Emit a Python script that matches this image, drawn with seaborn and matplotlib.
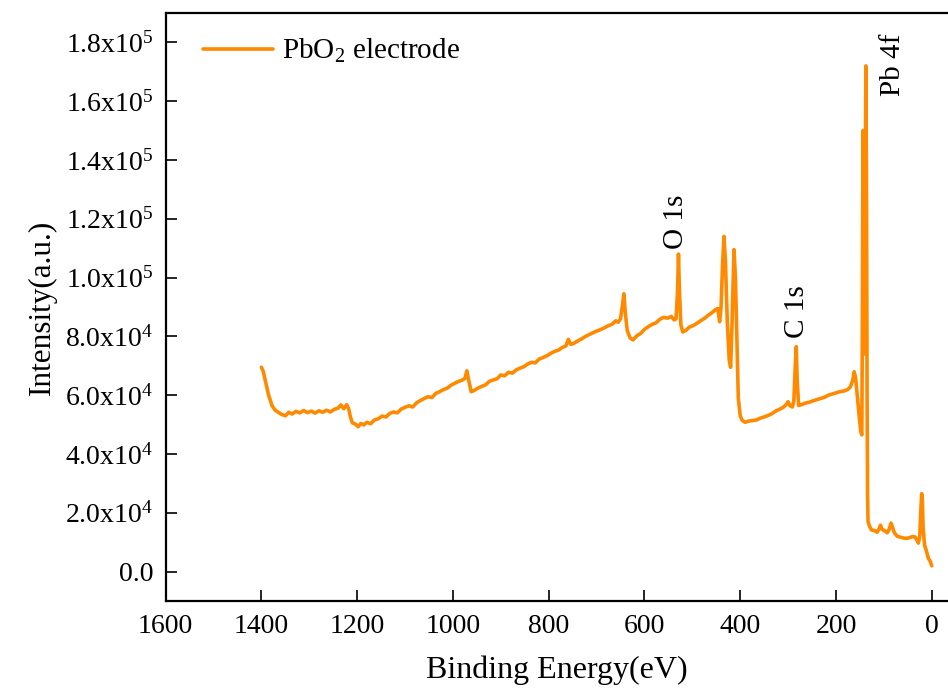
import matplotlib
matplotlib.use('Agg')
import matplotlib.pyplot as plt
import seaborn as sns
import pandas as pd

# binding energy (eV) and intensity
binding_energy = [
    1400, 1396, 1392, 1385, 1378, 1372, 1365, 1358, 1350, 1343, 1336, 1328,
    1320, 1312, 1304, 1296, 1288, 1280, 1272, 1264, 1256, 1248, 1240, 1234,
    1228, 1222, 1218, 1214, 1210, 1204, 1198, 1192, 1186, 1180, 1172, 1164,
    1156, 1148, 1140, 1132, 1124, 1116, 1108, 1100, 1092, 1084, 1076, 1068,
    1060, 1052, 1044, 1036, 1028, 1020, 1012, 1004, 996, 988, 980, 975,
    971, 967, 962, 956, 948, 940, 932, 924, 916, 908, 900, 892,
    884, 876, 868, 860, 852, 844, 836, 828, 820, 812, 804, 796,
    788, 780, 772, 764, 759, 754, 748, 740, 732, 724, 716, 708,
    700, 692, 684, 676, 668, 660, 655, 650, 646, 643, 640, 636,
    630, 624, 616, 608, 600, 592, 584, 576, 568, 560, 552, 544,
    538, 534, 531, 529, 527, 524, 520, 514, 506, 498, 490, 482,
    474, 466, 458, 452, 447, 443, 440, 437, 434, 431, 427, 423,
    420, 417, 413, 410, 407, 404, 400, 396, 390, 382, 374, 366,
    358, 350, 342, 334, 326, 318, 310, 304, 300, 296, 291, 288,
    285, 283, 281, 278, 272, 264, 256, 248, 240, 232, 224, 216,
    208, 200, 192, 184, 176, 170, 165, 162, 159, 155, 151, 148,
    146, 145, 143.5, 142, 140.5, 139, 137.5, 136, 135, 134, 133, 130,
    126, 120, 114, 110, 107, 104, 100, 97, 93, 89, 85, 82,
    78, 72, 65, 58, 52, 46, 40, 35, 31, 28, 25, 23,
    21, 19.5, 18, 15, 12, 9, 7, 4, 2, 0,
]
intensity = [
    69500, 68000, 65000, 60000, 56500, 55000, 54200, 53500, 53000, 54200, 53600, 54500,
    54000, 54800, 54100, 54600, 53900, 54700, 54200, 54900, 54300, 55200, 55600, 56700,
    55400, 56800, 55500, 52500, 50600, 50200, 49300, 50400, 49900, 50800, 50300, 51600,
    52000, 52900, 52600, 53800, 54300, 54000, 55300, 55900, 56400, 56000, 57400, 58200,
    58900, 59500, 59200, 60600, 61200, 61900, 62400, 63400, 64100, 64700, 65200, 65700,
    68300, 65000, 61200, 61600, 62400, 63000, 63500, 64700, 65200, 65600, 66900, 66600,
    67800, 67500, 68600, 69200, 69700, 70600, 71200, 71000, 72300, 72800, 73400, 74200,
    74900, 75300, 76200, 76800, 79000, 77300, 77600, 78400, 79100, 79900, 80600, 81200,
    81800, 82300, 82900, 83600, 84100, 85300, 84800, 86000, 90500, 94500, 88000, 82000,
    79500, 78800, 80200, 81000, 82400, 83300, 84100, 84600, 85800, 86500, 86200, 86800,
    85600, 86000, 95000, 108000, 96000, 84000, 81500, 82000, 83200, 83700, 84500, 85400,
    86200, 87300, 88200, 89100, 89500, 85000, 90000, 104000, 114000, 106000, 85000, 72000,
    69500, 85000, 109500, 100000, 80000, 59000, 53000, 51500, 50800, 51200, 51400, 51600,
    52200, 52600, 53100, 53700, 54600, 55200, 55900, 56800, 57800, 56400, 56000, 58000,
    70000, 76500, 65000, 56500, 56800, 57300, 57600, 58100, 58500, 58900, 59300, 60000,
    60400, 60800, 61200, 61400, 61900, 62800, 65000, 68000, 66000, 59000, 52000, 47500,
    46500, 80000, 150000, 110000, 74000, 120000, 172000, 120000, 60000, 26000, 17000, 15500,
    14200, 14000, 13400, 14500, 15800, 14500, 14000, 13800, 13200, 14300, 16500, 15200,
    13200, 12000, 11700, 11400, 11300, 11600, 11900, 11800, 10800, 9700, 12000, 20000,
    26500, 24000, 15000, 9000, 7500, 5800, 4500, 3800, 3000, 2000,
]

series_name = 'PbO$_\\mathregular{2}$ electrode'
peak_labels = ['O 1s', 'C 1s', 'Pb 4f']
peak_label_x = [534, 281, 81]
peak_label_y = [119000, 88400, 172400]

xticks = [1600, 1400, 1200, 1000, 800, 600, 400, 200, 0]
yticks = [0, 2e4, 4e4, 6e4, 8e4, 1e5, 1.2e5, 1.4e5, 1.6e5, 1.8e5]
ytick_labels = ['0.0', '2.0x10$^{4}$', '4.0x10$^{4}$', '6.0x10$^{4}$', '8.0x10$^{4}$',
                '1.0x10$^{5}$', '1.2x10$^{5}$', '1.4x10$^{5}$', '1.6x10$^{5}$', '1.8x10$^{5}$']

df = pd.DataFrame({'be': binding_energy, 'counts': intensity})

sns.set_style('ticks')
plt.rcParams['font.family'] = ['Liberation Serif', 'DejaVu Serif']
plt.rcParams['mathtext.fontset'] = 'custom'
plt.rcParams['mathtext.rm'] = 'Liberation Serif'
plt.rcParams['mathtext.it'] = 'Liberation Serif:italic'
plt.rcParams['text.color'] = 'black'
plt.rcParams['axes.labelcolor'] = 'black'

fig = plt.figure(figsize=(9.48, 6.91), dpi=100)
ax = fig.add_axes([0.1748, 0.1302, 0.8252, 0.851])

sns.lineplot(data=df, x='be', y='counts', ax=ax, sort=False, estimator=None,
             color='#FF8A00', linewidth=2.6, label=series_name)

ax.set_xlim(1600, -34)
ax.set_ylim(-1e4, 1.9e5)
ax.set_xticks(xticks)
ax.set_xticklabels([str(t) for t in xticks])
ax.set_yticks(yticks)
ax.set_yticklabels(ytick_labels)

ax.tick_params(direction='in', length=8, width=1.2, labelsize=20, pad=9,
               colors='black', labelcolor='black')
for side in ['left', 'bottom', 'top']:
    ax.spines[side].set_linewidth(1.6)
    ax.spines[side].set_color('black')
ax.spines['right'].set_visible(False)

ax.set_xlabel('Binding Energy(eV)', fontsize=23, labelpad=12, color='black')
ax.set_ylabel('Intensity(a.u.)', fontsize=22.5, labelpad=6, color='black')

for lab, lx, ly in zip(peak_labels, peak_label_x, peak_label_y):
    ax.text(lx, ly, lab, rotation=90, ha='center', va='center', fontsize=21,
            color='black')

leg = ax.legend(loc='upper left', bbox_to_anchor=(0.048, 0.959), frameon=False,
                fontsize=21, handlelength=2.4, handletextpad=0.3, borderpad=0,
                borderaxespad=0)
for t in leg.get_texts():
    t.set_color('black')

fig.savefig('out.png', dpi=100)
